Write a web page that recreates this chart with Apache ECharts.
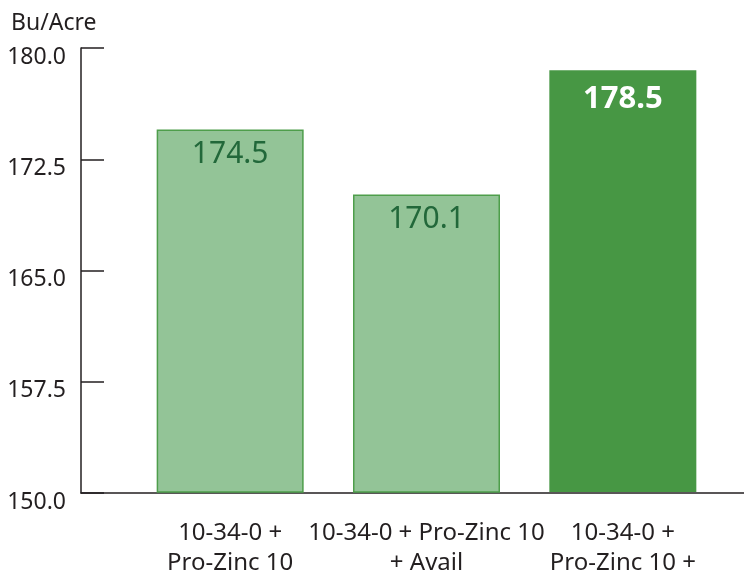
<!DOCTYPE html>
<html>
<head>
<meta charset="utf-8">
<script src="https://cdn.jsdelivr.net/npm/echarts@6/dist/echarts.min.js"></script>
<style>html,body{margin:0;padding:0;background:#fff}#c{width:744px;height:578px}</style>
</head>
<body>
<div id="c"></div>
<script>
const categories = ['10-34-0 +\nPro-Zinc 10', '10-34-0 + Pro-Zinc 10\n+ Avail', '10-34-0 +\nPro-Zinc 10 +'];
const values = [174.5, 170.1, 178.5];
const yMin = 150, yMax = 180, yStep = 7.5;
const yUnit = 'Bu/Acre';

const FONT = 'Noto Sans';
const TXT = '#231f20';
const chart = echarts.init(document.getElementById('c'), null, {renderer: 'canvas'});
const barData = values.map((v, i) => {
  const hi = i === 2;
  return {
    value: v,
    itemStyle: hi ? {color: '#479744', borderColor: '#479744', borderWidth: 0}
                  : {color: '#93c497', borderColor: '#4e9e4b', borderWidth: 1.5},
    label: hi ? {color: '#ffffff', fontWeight: 'bold', fontSize: 31, distance: 13}
              : {color: '#22683a', fontWeight: 'normal', fontSize: 30, distance: 10}
  };
});
chart.setOption({
  animation: false,
  title: {text: yUnit, left: 6, top: 7, textStyle: {fontFamily: FONT, fontSize: 23, fontWeight: 'normal', color: TXT}},
  grid: [
    {left: 132, right: 23, top: 48, bottom: 85},
    {left: 81, right: 0, top: 48, bottom: 85}
  ],
  xAxis: [
    {type: 'category', gridIndex: 0, data: categories,
     axisLine: {show: false}, axisTick: {show: false},
     axisLabel: {fontFamily: FONT, fontSize: 24, color: TXT, margin: 26, lineHeight: 30, interval: 0}},
    {type: 'value', gridIndex: 1, min: 0, max: 1,
     axisLine: {show: true, lineStyle: {color: TXT, width: 1.5}}, axisTick: {show: false},
     axisLabel: {show: false}, splitLine: {show: false}}
  ],
  yAxis: [
    {type: 'value', gridIndex: 0, min: yMin, max: yMax, interval: yStep, show: false, splitLine: {show: false}},
    {type: 'value', gridIndex: 1, min: yMin, max: yMax, interval: yStep,
     axisLine: {show: true, lineStyle: {color: TXT, width: 1.5}},
     axisTick: {show: true, inside: true, length: 23, lineStyle: {color: TXT, width: 1.5}},
     splitLine: {show: false},
     axisLabel: {fontFamily: FONT, fontSize: 23, color: TXT, margin: 15, verticalAlign: 'top', lineHeight: 18,
       formatter: v => v.toFixed(1)}}
  ],
  series: [{
    type: 'bar', xAxisIndex: 0, yAxisIndex: 0, data: barData, barWidth: 147,
    label: {show: true, position: 'insideTop', fontFamily: FONT, formatter: p => p.value.toFixed(1)}
  }]
});
</script>
</body>
</html>
